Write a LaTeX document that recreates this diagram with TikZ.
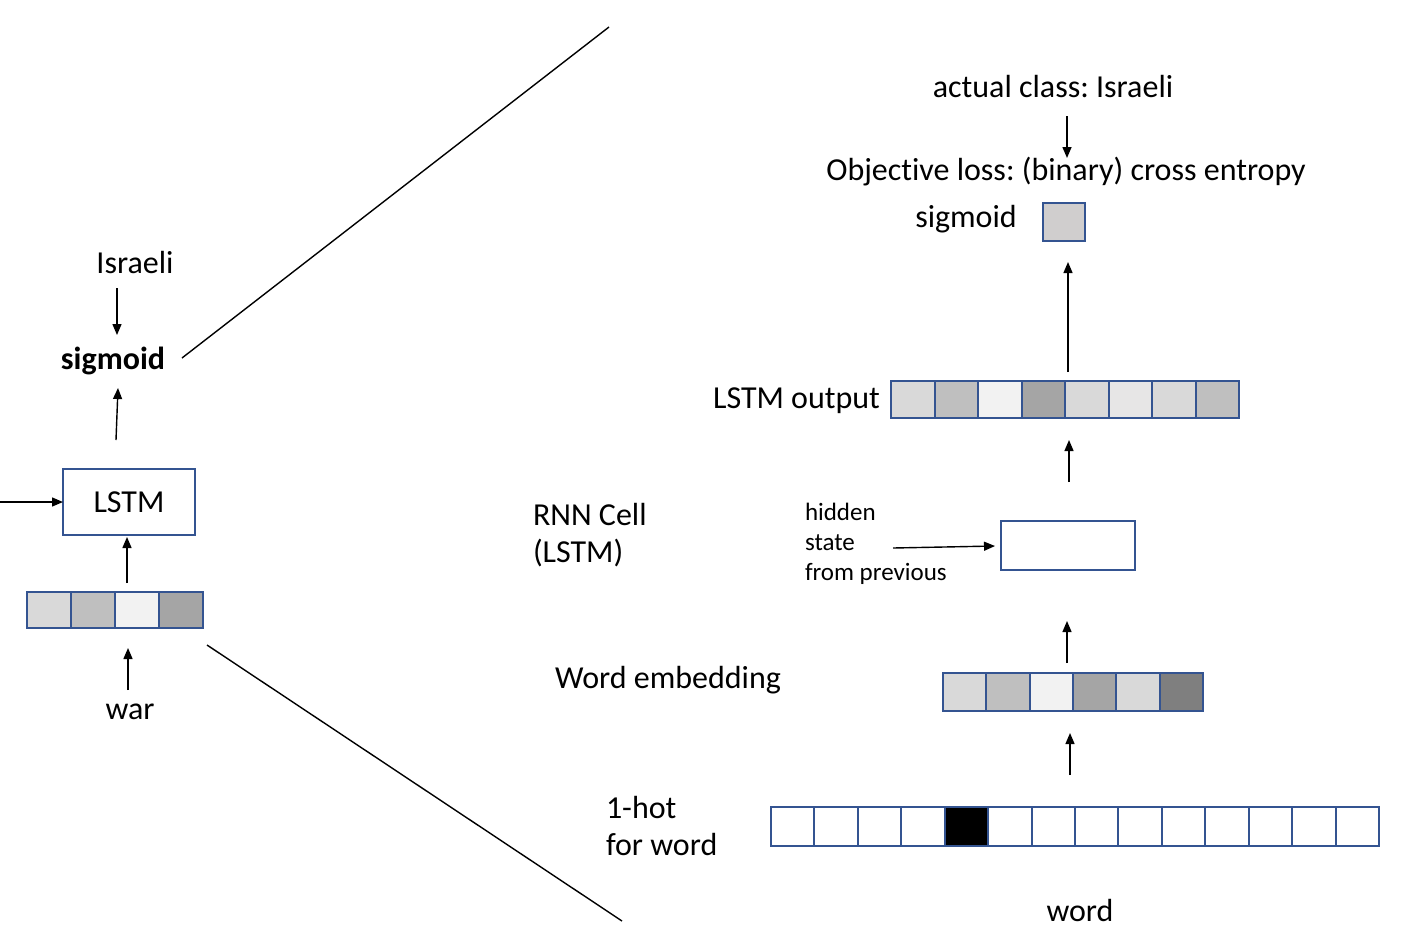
\documentclass[tikz,border=0pt]{standalone}
\usepackage{fontspec}
\setmainfont[Ligatures=NoCommon]{Carlito}
\frenchspacing
\usetikzlibrary{arrows.meta}
\definecolor{bord}{RGB}{52,84,145}
\definecolor{ga}{HTML}{D9D9D9}
\definecolor{gb}{HTML}{BFBFBF}
\definecolor{gc}{HTML}{F2F2F2}
\definecolor{gd}{HTML}{A5A5A5}
\definecolor{ge}{HTML}{E7E6E6}
\definecolor{gf}{HTML}{7F7F7F}
\definecolor{gs}{HTML}{D0CECE}
\begin{document}
\begin{tikzpicture}[x=1pt,y=-1pt,
  every node/.style={inner sep=0pt,outer sep=0pt},
  txt/.style={font=\fontsize{32}{37}\selectfont},
  small/.style={font=\fontsize{25}{30}\selectfont},
  boxst/.style={draw=bord,line width=1.8pt},
  cell/.style={draw=bord,line width=2pt,minimum width=43.5pt,minimum height=37pt},
  arr/.style={-{Triangle[length=11pt,width=9pt]},line width=1.4pt},
  plain/.style={line width=1.4pt}]
\useasboundingbox (0,0) rectangle (1402,938);

% ---------------- left side ----------------
\node[txt] (lisr) at (135,262) {Israeli};
\node[txt,font=\fontsize{32}{37}\selectfont\bfseries] (lsig) at (113,361) {sigmoid};
\node[boxst,minimum width=132pt,minimum height=66pt,txt] (lstm) at (129,502) {LSTM};
\foreach \c [count=\i from 0] in {ga,gb,gc,gd}
  \node[cell,minimum width=44pt,minimum height=36pt,fill=\c] (lv\i) at ({27+44*\i+22},610) {};
\node[txt] (lwar) at (130,712) {war};

\coordinate (la1) at (117,288); \coordinate (la2) at (117,335);
\draw[arr] (la1) -- (la2);
\coordinate (lb1) at (116,440); \coordinate (lb2) at (118,388);
\draw[arr] (lb1) -- (lb2);
\coordinate (lin) at (0,502);
\draw[arr] (lin) -- (lstm.west);
\coordinate (lc1) at (127,583); \coordinate (lc2) at (127,537);
\draw[arr] (lc1) -- (lc2);
\coordinate (ld1) at (128,690); \coordinate (ld2) at (128,648);
\draw[arr] (ld1) -- (ld2);

% zoom lines
\coordinate (z1a) at (182,358); \coordinate (z1b) at (609,27);
\coordinate (z2a) at (207,645); \coordinate (z2b) at (622,921);
\draw[plain] (z1a) -- (z1b);
\draw[plain] (z2a) -- (z2b);

% ---------------- right side ----------------
\node[txt] (act) at (1053,87) {actual class: Israeli};
\node[txt] (obj) at (1066,172) {Objective loss: (binary) cross entropy};
\node[txt] (rsig) at (966,219) {sigmoid};
\node[boxst,fill=gs,minimum width=42pt,minimum height=38pt] (sq) at (1064,222) {};

\node[txt,anchor=east] (outl) at (880,401) {LSTM output};
\foreach \c [count=\i from 0] in {ga,gb,gc,gd,ga,ge,ga,gb}
  \node[cell,fill=\c] (ov\i) at ({891+43.5*\i+21.75},399.5) {};

\node[txt,anchor=west,align=left] (rnn) at (533,535.5) {RNN Cell\\(LSTM)};
\node[small,anchor=west,align=left] (hid) at (805,544) {hidden\\state\\from previous};
\node[boxst,minimum width=134pt,minimum height=49pt] (cellbox) at (1068,545.5) {};

\node[txt] (wel) at (668,680) {Word embedding};
\foreach \c [count=\i from 0] in {ga,gb,gc,gd,ga,gf}
  \node[cell,minimum width=43.33pt,minimum height=38pt,fill=\c] (ev\i) at ({943+43.33*\i+21.67},691.5) {};

\node[txt,anchor=west,align=left] (hot) at (606,826) {1-hot\\for word};
\foreach \c [count=\i from 0] in {white,white,white,white,black,white,white,white,white,white,white,white,white,white}
  \node[cell,minimum width=43.43pt,minimum height=39pt,fill=\c] (hv\i) at ({771+43.43*\i+21.71},826.5) {};
\node[txt] (word) at (1080,910) {word};

\coordinate (ra1) at (1067,116); \coordinate (ra2) at (1067,158);
\draw[arr] (ra1) -- (ra2);
\coordinate (rb1) at (1068,372); \coordinate (rb2) at (1068,262);
\draw[arr] (rb1) -- (rb2);
\coordinate (rc1) at (1069,482); \coordinate (rc2) at (1069,440);
\draw[arr] (rc1) -- (rc2);
\coordinate (rh1) at (893,548); \coordinate (rh2) at (995,546);
\draw[arr] (rh1) -- (rh2);
\coordinate (rd1) at (1067,663); \coordinate (rd2) at (1067,621);
\draw[arr] (rd1) -- (rd2);
\coordinate (re1) at (1070,775); \coordinate (re2) at (1070,733);
\draw[arr] (re1) -- (re2);
\end{tikzpicture}
\end{document}
